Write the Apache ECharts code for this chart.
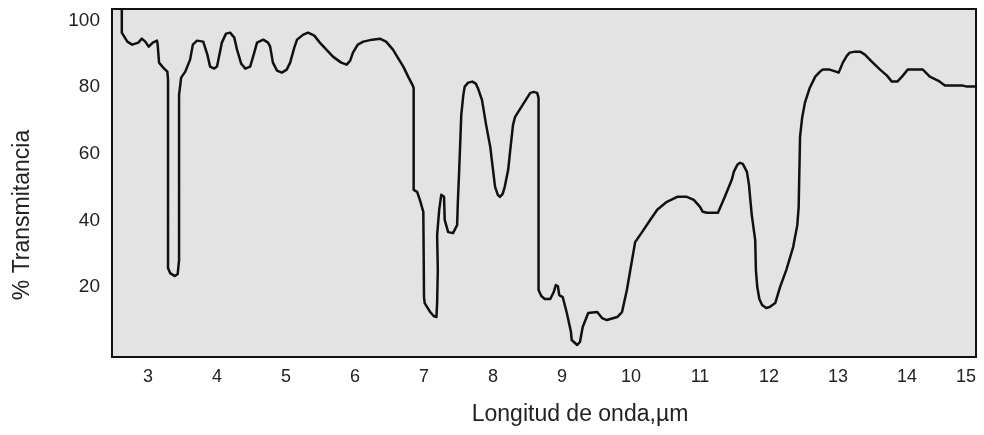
<!DOCTYPE html>
<html>
<head>
<meta charset="utf-8">
<title>Espectro IR</title>
<script src="https://cdn.jsdelivr.net/npm/echarts@6/dist/echarts.min.js"></script>
<style>
  html, body { margin: 0; padding: 0; background: #ffffff; }
  #chart { width: 984px; height: 435px; }
</style>
</head>
<body>
<div id="chart"></div>
<script>
// Infrared spectrum: wavelength (µm) vs. % transmittance
const wavelength = [
  2.62, 2.62, 2.70, 2.77, 2.86, 2.91, 2.96, 3.01, 3.07, 3.13, 3.14, 3.16, 3.22, 3.28, 3.29,
  3.29, 3.32, 3.39, 3.43, 3.45, 3.45, 3.45, 3.48, 3.54, 3.61, 3.65, 3.71, 3.80, 3.86, 3.90,
  3.96, 4.00, 4.07, 4.13, 4.19, 4.25, 4.29, 4.35, 4.41, 4.48, 4.54, 4.58, 4.67, 4.74, 4.77,
  4.81, 4.87, 4.94, 5.01, 5.06, 5.12, 5.16, 5.25, 5.32, 5.41, 5.49, 5.68, 5.80, 5.88, 5.93,
  5.97, 6.04, 6.12, 6.25, 6.36, 6.45, 6.55, 6.62, 6.70, 6.77, 6.83, 6.85, 6.85, 6.90, 6.94,
  6.99, 7.00, 7.01, 7.09, 7.14, 7.18, 7.19, 7.20, 7.19, 7.22, 7.25, 7.29, 7.30, 7.35, 7.42,
  7.48, 7.49, 7.51, 7.54, 7.57, 7.59, 7.64, 7.70, 7.75, 7.78, 7.84, 7.90, 7.96, 8.00, 8.03,
  8.07, 8.10, 8.14, 8.17, 8.22, 8.25, 8.29, 8.32, 8.43, 8.54, 8.59, 8.64, 8.66, 8.66, 8.70,
  8.75, 8.83, 8.88, 8.91, 8.94, 8.96, 9.01, 9.07, 9.13, 9.14, 9.22, 9.26, 9.30, 9.38, 9.51,
  9.58, 9.65, 9.80, 9.87, 9.94, 9.99, 10.06, 10.16, 10.28, 10.38, 10.52, 10.67, 10.81, 10.91, 11.00,
  11.04, 11.10, 11.26, 11.36, 11.46, 11.49, 11.54, 11.58, 11.62, 11.68, 11.71, 11.72, 11.75, 11.80, 11.81,
  11.83, 11.86, 11.90, 11.96, 12.01, 12.09, 12.16, 12.25, 12.35, 12.41, 12.43, 12.45, 12.48, 12.52, 12.59,
  12.67, 12.74, 12.78, 12.88, 12.97, 13.01, 13.04, 13.07, 13.13, 13.17, 13.25, 13.32, 13.39, 13.49, 13.61,
  13.71, 13.78, 13.86, 13.94, 14.01, 14.23, 14.33, 14.45, 14.55, 14.81, 14.87, 15.00
];

const transmittance = [
  103.4, 96.4, 93.7, 92.8, 93.4, 94.6, 93.7, 92.2, 93.4, 94.0, 92.8, 87.4, 85.9, 84.7, 82.3,
  25.7, 24.2, 23.3, 23.9, 28.1, 61.2, 77.7, 82.9, 84.7, 88.3, 92.8, 94.0, 93.7, 89.8, 86.2,
  85.6, 86.2, 93.4, 96.1, 96.4, 94.9, 91.3, 87.1, 85.6, 86.2, 90.4, 93.4, 94.3, 93.4, 92.2,
  87.4, 85.0, 84.4, 85.3, 87.4, 91.9, 94.3, 95.8, 96.4, 95.5, 93.4, 89.2, 87.4, 86.8, 88.0,
  90.4, 92.8, 93.7, 94.3, 94.6, 93.7, 91.3, 88.9, 86.2, 83.2, 80.8, 79.8, 49.2, 48.6, 46.2,
  42.6, 17.0, 15.2, 12.5, 11.3, 11.0, 15.2, 25.1, 35.6, 43.2, 47.7, 47.1, 40.2, 36.5, 36.2,
  38.6, 45.3, 55.2, 71.7, 77.7, 80.2, 81.4, 81.7, 81.1, 79.8, 76.2, 68.7, 62.1, 55.2, 50.1,
  47.7, 47.1, 48.0, 50.1, 55.2, 61.2, 68.7, 71.1, 74.7, 78.3, 78.6, 78.3, 76.8, 19.1, 17.3,
  16.4, 16.4, 18.5, 20.6, 20.3, 17.6, 17.0, 12.2, 6.5, 4.1, 2.6, 3.5, 8.0, 12.2, 12.5,
  10.7, 10.1, 11.0, 12.5, 19.1, 25.1, 33.5, 36.5, 40.2, 43.2, 45.6, 47.1, 47.1, 46.2, 44.1,
  42.6, 42.3, 42.3, 47.1, 52.2, 54.6, 56.7, 57.3, 57.0, 54.6, 50.7, 48.3, 41.7, 34.1, 25.1,
  20.0, 16.4, 14.6, 13.7, 14.0, 15.2, 20.0, 25.1, 32.0, 38.6, 44.1, 65.1, 70.8, 75.3, 79.8,
  83.2, 84.7, 85.3, 85.3, 84.7, 84.4, 85.9, 87.4, 89.5, 90.4, 90.7, 90.7, 89.8, 87.7, 85.3,
  83.5, 81.7, 81.7, 83.5, 85.3, 85.3, 83.2, 82.0, 80.5, 80.5, 80.2, 80.2
];

const xTickLabels = [3, 4, 5, 6, 7, 8, 9, 10, 11, 12, 13, 14, 15];
const yTickLabels = [20, 40, 60, 80, 100];

const spectrum = wavelength.map((w, i) => [w, transmittance[i]]);

const chart = echarts.init(document.getElementById('chart'), null, { renderer: 'canvas' });

const labelFont = 'Liberation Sans, Arial, sans-serif';

chart.setOption({
  animation: false,
  backgroundColor: '#ffffff',
  grid: {
    left: 112,
    right: 8,
    top: 9,
    bottom: 78,
    show: true,
    backgroundColor: '#e3e3e3',
    borderColor: '#111111',
    borderWidth: 2
  },
  xAxis: {
    type: 'value',
    min: 2.478,
    max: 15,
    name: 'Longitud de onda,µm',
    nameLocation: 'middle',
    nameGap: 46,
    nameTextStyle: {
      fontFamily: labelFont,
      fontSize: 23,
      color: '#222222',
      padding: [0, 0, 0, 72]
    },
    axisLine: { show: false },
    axisTick: { show: false },
    splitLine: { show: false },
    axisLabel: {
      customValues: xTickLabels,
      margin: 11,
      fontFamily: labelFont,
      fontSize: 18,
      color: '#222222',
      alignMaxLabel: 'right'
    }
  },
  yAxis: {
    type: 'value',
    min: -1,
    max: 103.5,
    name: '% Transmitancia',
    nameLocation: 'middle',
    nameGap: 78,
    nameTextStyle: {
      fontFamily: labelFont,
      fontSize: 23,
      color: '#222222',
      padding: [0, 64, 0, 0]
    },
    axisLine: { show: false },
    axisTick: { show: false },
    splitLine: { show: false },
    axisLabel: {
      customValues: yTickLabels,
      margin: 12,
      fontFamily: labelFont,
      fontSize: 19,
      color: '#222222'
    }
  },
  series: [{
    type: 'line',
    data: spectrum,
    showSymbol: false,
    symbol: 'none',
    smooth: false,
    clip: true,
    lineStyle: { color: '#111111', width: 2.5, join: 'round', cap: 'round' }
  }]
});
</script>
</body>
</html>
